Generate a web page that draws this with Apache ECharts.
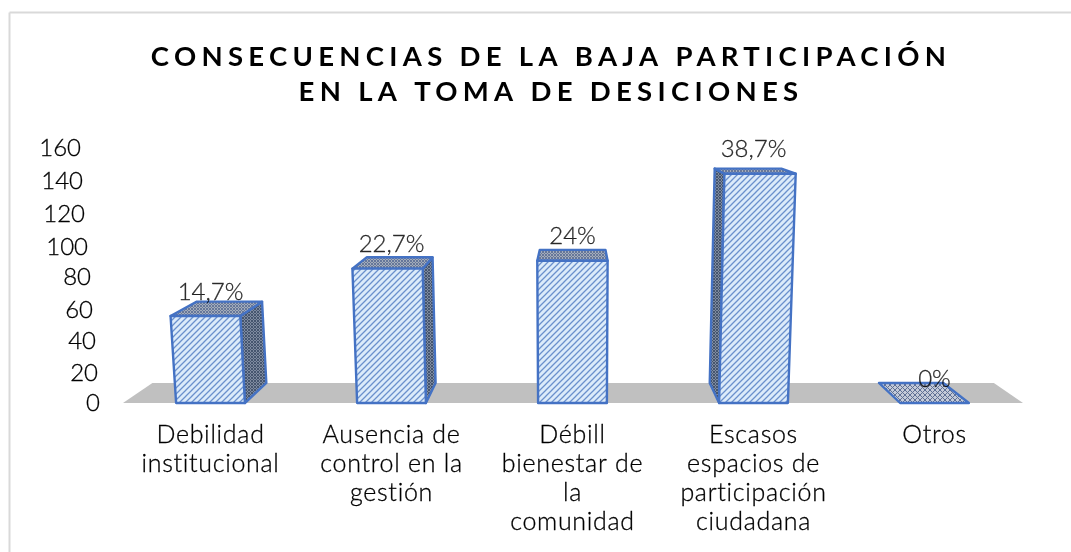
<!DOCTYPE html>
<html><head><meta charset="utf-8">
<style>html,body{margin:0;padding:0;background:#fff}#c{width:1071px;height:552px}</style>
<script src="https://cdn.jsdelivr.net/npm/echarts@6/dist/echarts.min.js"></script>
</head><body><div id="c"></div>
<script>
const titleLines = ['CONSECUENCIAS DE LA BAJA PARTICIPACIÓN', 'EN LA TOMA DE DESICIONES'];
const categories = ['Debilidad\ninstitucional', 'Ausencia de\ncontrol en la\ngestión', 'Débill\nbienestar de\nla\ncomunidad', 'Escasos\nespacios de\nparticipación\nciudadana', 'Otros'];
const values = [55, 85, 90, 145, 0];
const pctLabels = ['14,7%', '22,7%', '24%', '38,7%', '0%'];
const yTicks = [0, 20, 40, 60, 80, 100, 120, 140, 160];
// the tick labels follow the slanted wall of the 3D chart: per-tick pixel nudges
const tickPadRight = [0, 2, 4, 7, 9, 12, 15, 17, 19];
const tickShiftDown = [0, 2, 2, 2, 1, 2, 1, 0, -2];

const FONT = 'Lato';
const TEXT = '#000';
['fillText', 'strokeText'].forEach(name => {
  const orig = CanvasRenderingContext2D.prototype[name];
  CanvasRenderingContext2D.prototype[name] = function (t, x, y, m) {
    this.letterSpacing = /bold/.test(this.font) ? '5.3px' : /25px/.test(this.font) ? '0.7px' : '0px';
    return m === undefined ? orig.call(this, t, x, y) : orig.call(this, t, x, y, m);
  };
});

function makePattern(bg, fg, size, lw, kind) {
  const c = document.createElement('canvas');
  c.width = c.height = size;
  const g = c.getContext('2d');
  g.fillStyle = bg; g.fillRect(0, 0, size, size);
  g.strokeStyle = fg; g.lineWidth = lw;
  g.beginPath();
  g.moveTo(-size, size * 2); g.lineTo(size * 2, -size);
  g.moveTo(-size, size); g.lineTo(size, -size);
  g.moveTo(0, size * 2); g.lineTo(size * 2, 0);
  if (kind === 'cross') {
    g.moveTo(-size, -size); g.lineTo(size * 2, size * 2);
    g.moveTo(-size, 0); g.lineTo(size, size * 2);
    g.moveTo(0, -size); g.lineTo(size * 2, size);
  }
  g.stroke();
  return c;
}
const frontFill = { image: makePattern('#dcebfa', '#6a90cc', 6, 1.3), repeat: 'repeat' };
const sideFill = { image: makePattern('#7f8ba0', '#46566f', 3, 1, 'cross'), repeat: 'repeat' };
const topFill = { image: makePattern('#a4adba', '#66779a', 3, 1, 'cross'), repeat: 'repeat' };
const flatFill = { image: makePattern('#c3cad8', '#5f7095', 5, 1, 'cross'), repeat: 'repeat' };
const EDGE = '#4472c4';

const chart = echarts.init(document.getElementById('c'), null, { renderer: 'canvas' });

const GRID = { left: 120, top: 150, width: 905, height: 253 };
const VX = 575, VY = 95, DEPTH = 0.065, FAN = 0.00016;
const back = p => [p[0] + (VX - p[0]) * DEPTH, p[1] + (VY - p[1]) * DEPTH];

function renderBar(params, api) {
  const i = api.value(0), v = api.value(1);
  const base = api.coord([i, 0]), top = api.coord([i, v]);
  const w = api.size([1, 0])[0] * 0.38;
  const h = base[1] - top[1];
  const fan = x => x + (x - VX) * h * FAN;
  const bl = [base[0] - w / 2, base[1]], br = [base[0] + w / 2, base[1]];
  const tl = [fan(bl[0]), top[1]], tr = [fan(br[0]), top[1]];
  const poly = (pts, fill) => ({
    type: 'polygon', shape: { points: pts },
    style: { fill, stroke: EDGE, lineWidth: 2.4, lineJoin: 'round' }
  });
  const children = [];
  if (v === 0) {
    children.push(poly([bl, br, back(br), back(bl)], flatFill));
  } else {
    if (bl[0] > VX) children.push(poly([bl, tl, back(tl), back(bl)], sideFill));
    if (br[0] < VX) children.push(poly([br, tr, back(tr), back(br)], sideFill));
    children.push(poly([tl, tr, back(tr), back(tl)], topFill));
    children.push(poly([bl, br, tr, tl], frontFill));
  }
  return { type: 'group', children };
}

function renderFloor(params, api) {
  const band = api.size([1, 0])[0];
  const a = api.coord([0, 0]), b = api.coord([categories.length - 1, 0]);
  const l = [a[0] - band / 2 + 3, a[1]], r = [b[0] + band / 2 - 2, b[1]];
  return { type: 'polygon', shape: { points: [l, r, back(r), back(l)] }, style: { fill: '#c0c0c0' }, silent: true };
}

const thinText = { color: TEXT, fontFamily: FONT, fontWeight: 300, textBorderColor: '#000', textBorderWidth: 0.3 };

const tickRich = {};
yTicks.forEach((t, i) => {
  const dy = tickShiftDown[i];
  tickRich['t' + t] = Object.assign({}, thinText, {
    fontSize: 24,
    padding: [Math.max(dy, 0) * 2, tickPadRight[i], Math.max(-dy, 0) * 2, 0]
  });
});

chart.setOption({
  animation: false,
  backgroundColor: '#fff',
  title: {
    text: titleLines.join('\n'), left: 546, top: 35, textAlign: 'center',
    textStyle: { fontFamily: FONT, fontSize: 27.5, fontWeight: 'bold', color: '#000', lineHeight: 35 }
  },
  grid: GRID,
  xAxis: {
    type: 'category', data: categories,
    axisLine: { show: false }, axisTick: { show: false },
    axisLabel: Object.assign({ interval: 0, fontSize: 25, lineHeight: 29, margin: 17 }, thinText)
  },
  yAxis: {
    type: 'value', min: 0, max: 160, interval: 20,
    axisLine: { show: false }, axisTick: { show: false }, splitLine: { show: false },
    axisLabel: Object.assign({ margin: 20, fontSize: 24, formatter: v => `{t${v}|${v}}`, rich: tickRich }, thinText)
  },
  graphic: [
    { type: 'line', silent: true, z: -1, shape: { x1: 9.5, y1: 12.5, x2: 1071, y2: 12.5 }, style: { stroke: '#d9d9d9', lineWidth: 2 } },
    { type: 'line', silent: true, z: -1, shape: { x1: 9.5, y1: 12.5, x2: 9.5, y2: 552 }, style: { stroke: '#d9d9d9', lineWidth: 2 } }
  ],
  series: [
    { type: 'custom', data: [[0, 0]], renderItem: renderFloor, encode: { x: 0, y: 1 }, silent: true, z: 1 },
    {
      type: 'custom', z: 2,
      data: values.map((v, i) => [i, v]),
      renderItem: renderBar, encode: { x: 0, y: 1 }
    },
    {
      type: 'scatter', z: 3, symbolSize: 0, silent: true,
      data: values.map((v, i) => [i, v]),
      label: Object.assign({
        show: true, position: 'top', distance: 12, fontSize: 24,
        formatter: p => pctLabels[p.dataIndex]
      }, thinText)
    }
  ]
});
</script></body></html>
